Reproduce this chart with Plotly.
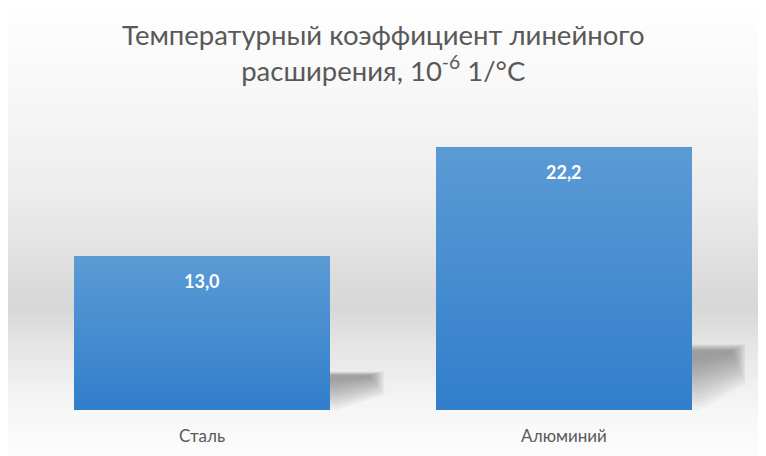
import plotly.graph_objects as go

# ---------------- data ----------------
categories = ["Сталь", "Алюминий"]
values = [13.0, 22.2]
value_labels = ["13,0", "22,2"]
title_lines = ["Температурный коэффициент линейного", "расширения, 10<sup>-6</sup> 1/°C"]

# ---------------- layout constants ----------------
W, H = 766, 456
OFF = 8  # browser body margin compensation
ML, MR, MT, MB = 21 - OFF, 21 + OFF, 114 - OFF, 46 + OFF
YMAX = 25
BAR_W = 0.707
FONT = "Lato"
TEXT_COLOR = "#595959"

fig = go.Figure()

# background vertical gradient (paper coordinates)
bg_stops = [(0, (255, 255, 255)), (100, (247, 247, 247)), (200, (236, 236, 236)),
            (307, (215, 215, 215)), (350, (230, 230, 230)), (410, (246, 246, 246)),
            (470, (254, 254, 254))]
PH = H - MT - MB


def bg_color(py):
    for (a, ca), (b, cb) in zip(bg_stops[:-1], bg_stops[1:]):
        if a <= py <= b:
            t = (py - a) / (b - a)
            c = [round(ca[k] + (cb[k] - ca[k]) * t) for k in range(3)]
            return "rgb(%d,%d,%d)" % tuple(c)
    return "rgb(255,255,255)"


shapes = []
step = 4
for py in range(-OFF, H, step):
    y1 = 1 - (py - (MT + OFF)) / PH + 0.003
    y0 = 1 - (py + step - (MT + OFF)) / PH
    shapes.append(dict(type="rect", xref="paper", yref="paper", x0=-1, x1=2,
                       y0=y0, y1=y1, fillcolor=bg_color(py + step / 2),
                       line=dict(width=0), layer="below"))

# soft perspective shadows: darker near the top edge, fading along a diagonal
NL = 14
for i, v in enumerate(values):
    xr = i + BAR_W / 2
    hs = 0.25 * v
    sw = 0.15
    for k in range(NL):
        t = k / (NL - 1)
        top = hs * (1.0 - 0.10 * t)
        right = xr + sw * (1.0 - 0.25 * t)
        low_left = hs * 0.75 * t
        low_right = hs * (0.40 + 0.45 * t)
        xs = [xr, xr, right, right, xr + 0.02]
        ys = [low_left, top, top, low_right, low_left]
        fig.add_trace(go.Scatter(x=xs + [xs[0]], y=ys + [ys[0]], fill="toself", mode="none",
                                 fillcolor="rgba(60,60,60,0.035)", hoverinfo="skip",
                                 showlegend=False))

# bars
fig.add_trace(go.Bar(x=list(range(len(categories))), y=values, width=BAR_W,
                     marker=dict(color="#4a8fd4", line=dict(width=0)),
                     hoverinfo="skip", showlegend=False))

# gradient overlay on each bar
for i, v in enumerate(values):
    x0, x1 = i - BAR_W / 2, i + BAR_W / 2
    fig.add_trace(go.Scatter(x=[x0, x1, x1, x0, x0], y=[0, 0, v, v, 0], fill="toself", mode="none",
                             fillgradient=dict(type="vertical",
                                               colorscale=[[0, "#317ecb"], [1, "#5b9bd5"]]),
                             hoverinfo="skip", showlegend=False))

annotations = []
for i, v in enumerate(values):
    annotations.append(dict(x=i, y=v, xref="x", yref="y", text="<b>%s</b>" % value_labels[i],
                            showarrow=False, yshift=-25, yanchor="middle",
                            font=dict(family=FONT, size=18, color="white")))

annotations.append(dict(x=0.5, xref="paper", y=1 + (MT + OFF - 53) / PH, yref="paper",
                        text="<br>".join(title_lines), showarrow=False, yanchor="middle",
                        align="center", font=dict(family=FONT, size=27.5, color=TEXT_COLOR)))

fig.update_layout(
    width=W, height=H,
    margin=dict(l=ML, r=MR, t=MT, b=MB),
    paper_bgcolor="white",
    plot_bgcolor="rgba(0,0,0,0)",
    shapes=shapes,
    annotations=annotations,
    bargap=0,
    xaxis=dict(range=[-0.5, len(categories) - 0.5], tickvals=list(range(len(categories))),
               ticktext=categories, showgrid=False, zeroline=False, showline=False, ticks="",
               tickfont=dict(family=FONT, size=17, color=TEXT_COLOR), ticklabelstandoff=14,
               fixedrange=True),
    yaxis=dict(range=[0, YMAX], visible=False, fixedrange=True),
)

fig.write_html("out.html")
